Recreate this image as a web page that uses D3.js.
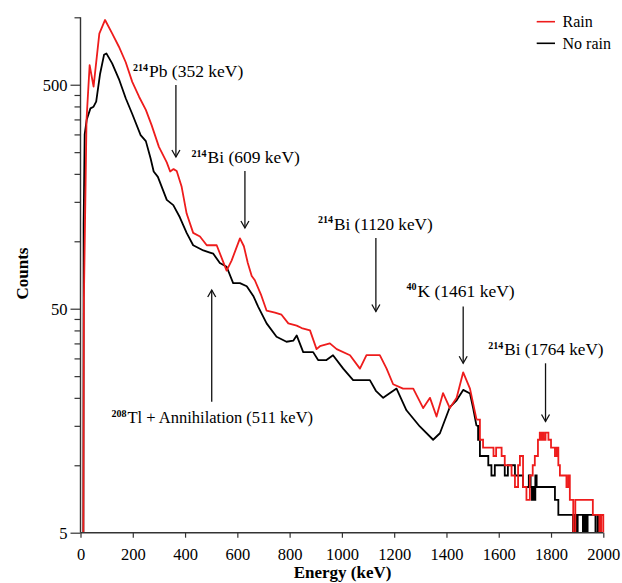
<!DOCTYPE html>
<html><head><meta charset="utf-8">
<script src="https://cdn.jsdelivr.net/npm/d3@7"></script>
<style>
body{margin:0;background:#fff}
svg{display:block}
svg text{font-family:"Liberation Serif","Tinos","DejaVu Serif",serif;fill:#000}
</style>
</head><body>
<svg id="chart" width="622" height="583"></svg>
<script>
// ---------------- DATA ----------------
// Rain spectrum (smooth part)
const rainEnergy = [11,13,23,35,50,72,94,121,147,173,198,224,250,272,300,330,343,356,368,387,406,431,457,483,521,559,578,610,625,640,655,667,690,712,744,769,795,827,846,878,903,916,954,980,1031,1069,1094,1145,1171,1196,1234,1273,1311,1337,1362,1387,1413,1439,1464,1490,1515];
const rainCounts = [5,55,348,612,490,845,973,848,739,630,515,442,386,330,264,225,205,210,206,175,133,109,105,96,96,74,82,103,95,80,70,67,58,49,48,47,43,42,41,40,33,34,35,33,31,27,31,31,27,23,22,22,18,20,16.5,21,18,20,26,22,16];
// Rain spectrum (low-count, stepped tail)
const rainTailEnergy = [1515,1528,1540,1566,1580,1590,1604,1611,1623,1642,1649,1662,1674,1681,1693,1706,1719,1730,1738,1750,1757,1762,1767,1772,1779,1790,1800,1815,1822,1828,1834,1846,1859,1866,1872,1885,1893,1950,1960,1975,1985,1992,2000];
const rainTailCounts = [16,13,12,12,11,12,12,11,10,10,9,8,10,11,8,7,9,10,11,13,14,13,14,13,14,13,12,11,12,10,9,9,8,9,7,5,7,7,6,6,5,6,5];

// No-rain spectrum (smooth part)
const noRainEnergy = [11,12,16,24,38,50,60,75,90,99,121,147,173,198,230,250,268,280,296,330,355,380,406,431,470,495,508,533,559,584,610,636,661,680,712,750,788,814,827,852,890,909,941,966,1005,1043,1081,1107,1130,1158,1184,1209,1247,1298,1349,1375,1413,1439,1464,1490,1502,1515];
const noRainCounts = [5,120,300,350,392,399,420,560,680,690,623,530,435,370,298,280,235,205,194,153,145,128,109,96,91,89,88,80,77,65,65,63,57,51,43,37.5,35.6,36,38,32,32,29.5,29.5,31,27,24,24,24,21.5,20,21,22,17.6,14.9,13,13.9,18.2,19.5,21.7,20.9,18,15];
// No-rain spectrum (stepped tail)
const noRainTailEnergy = [1515,1521,1528,1540,1553,1560,1572,1585,1600,1611,1623,1635,1649,1662,1681,1693,1705,1715,1722,1727,1731,1736,1740,1745,1755,1770,1800,1815,1828,1850,1870,1884,1890,1896,1902,1915,1922,1928,1934,1940,1950,1960,1970,1978,1985,1990,2000];
const noRainTailCounts = [15,13,11,11,11,10,9,10,10,10,9,10,10,9,9,8,8,9,8,7,8,7,9,8,8,8,8,7,6,6,6,5,6,5,6,6,5,6,5,6,6,6,5,6,5,6,6];

const xTickValues = [0,200,400,600,800,1000,1200,1400,1600,1800,2000];
const yMajorTicks = [5,50,500];
const yMinorTicks = [10,15,20,25,30,35,40,45,100,150,200,250,300,350,400,450,1000];

const seriesNames = ["Rain","No rain"];
const seriesColors = ["#ee1c1c","#000000"];

// peak annotations: isotope mass number, label, energy where the arrow points
const peakMass   = ["214","214","214","40","214","208"];
const peakLabel  = ["Pb (352 keV)","Bi (609 keV)","Bi (1120 keV)","K (1461 keV)","Bi (1764 keV)","Tl + Annihilation (511 keV)"];
const peakArrowE = [365,629,1130,1464,1779,502];

// ---------------- LAYOUT ----------------
const plot = {left:80.5, right:603.3, top:17.3, bottom:532.7};
// label placement (pixels): superscript x, baseline y, arrow y from / tip, main font size
const annLayout = [
  {sx:133,   by:77,    y1:85,    y2:157,   fs:17.5},
  {sx:191.5, by:163,   y1:171,   y2:228,   fs:17.5},
  {sx:318,   by:229.5, y1:238,   y2:311.5, fs:17.2},
  {sx:406.5, by:296.7, y1:306.5, y2:363.3, fs:17.5},
  {sx:488.3, by:355,   y1:363.3, y2:421.5, fs:17.2},
  {sx:111.5, by:423.3, y1:401.7, y2:290,   fs:16.5}
];
const FONT = "'Liberation Serif','Tinos','DejaVu Serif',serif";

const svg = d3.select("#chart");

const x = d3.scaleLinear().domain([0,2000]).range([plot.left, plot.right]);
const y = d3.scaleLog().domain([5,1000]).range([plot.bottom, plot.top]);

svg.append("defs").append("clipPath").attr("id","clip")
  .append("rect").attr("x",plot.left).attr("y",plot.top-5)
  .attr("width",plot.right-plot.left+2).attr("height",plot.bottom-plot.top+5);

const lineSmooth = d3.line().x(d=>x(d[0])).y(d=>y(d[1])).curve(d3.curveLinear);
const lineStep = d3.line().x(d=>x(d[0])).y(d=>y(d[1])).curve(d3.curveStepAfter);
const zip = (a,b)=>a.map((v,i)=>[v,b[i]]);

const g = svg.append("g").attr("clip-path","url(#clip)");
const series = [
  {head:zip(noRainEnergy,noRainCounts), tail:zip(noRainTailEnergy,noRainTailCounts), color:seriesColors[1]},
  {head:zip(rainEnergy,rainCounts), tail:zip(rainTailEnergy,rainTailCounts), color:seriesColors[0]}
];
series.forEach(s=>{
  g.append("path").attr("d",lineSmooth(s.head)).attr("fill","none")
    .attr("stroke",s.color).attr("stroke-width",1.8).attr("stroke-linejoin","round");
  g.append("path").attr("d",lineStep(s.tail)).attr("fill","none")
    .attr("stroke",s.color).attr("stroke-width",1.8);
});

// ---------------- AXES ----------------
const axisColor = "#333";
const xAxis = svg.append("g").attr("transform",`translate(0,${plot.bottom})`)
  .call(d3.axisBottom(x).tickValues(xTickValues).tickSize(5).tickPadding(11).tickFormat(d3.format("d")));
const yAxisMajor = svg.append("g").attr("transform",`translate(${plot.left},0)`)
  .call(d3.axisLeft(y).tickValues(yMajorTicks).tickSize(10).tickPadding(3).tickFormat(d3.format("d")));
const yAxisMinor = svg.append("g").attr("transform",`translate(${plot.left},0)`)
  .call(d3.axisLeft(y).tickValues(yMinorTicks).tickSize(6).tickFormat(""));
yAxisMinor.select(".domain").remove();
[xAxis,yAxisMajor,yAxisMinor].forEach(a=>{
  a.attr("font-family",FONT);
  a.selectAll("path.domain").attr("stroke",axisColor).attr("stroke-width",1.4);
  a.selectAll(".tick line").attr("stroke",axisColor).attr("stroke-width",1.2);
  a.selectAll(".tick text").attr("font-size",16.5).attr("fill","#000");
});
xAxis.select(".domain").attr("d",`M${plot.left},0H${plot.right}`);
yAxisMajor.select(".domain").attr("d",`M0,${plot.top}V${plot.bottom}`);
yAxisMajor.selectAll(".tick text").attr("dy","0.34em");

// axis titles
svg.append("text").attr("x",342.5).attr("y",578).attr("text-anchor","middle")
  .attr("font-family",FONT).attr("font-size",17).attr("font-weight","bold").text("Energy (keV)");
svg.append("text").attr("transform","translate(28,273.5) rotate(-90)").attr("text-anchor","middle")
  .attr("font-family",FONT).attr("font-size",17).attr("font-weight","bold").text("Counts");

// ---------------- ANNOTATIONS ----------------
const ann = svg.append("g").attr("font-family",FONT);
peakLabel.forEach((lab,i)=>{
  const L = annLayout[i];
  const t = ann.append("text").attr("x",L.sx).attr("y",L.by);
  t.append("tspan").attr("font-size",10).attr("font-weight","bold").attr("dy",-6.5).text(peakMass[i]);
  t.append("tspan").attr("font-size",L.fs).attr("dy",6.5).attr("dx",1).text(lab);
  const ax = x(peakArrowE[i]);
  const dir = L.y2 > L.y1 ? 1 : -1;
  ann.append("line").attr("x1",ax).attr("x2",ax).attr("y1",L.y1).attr("y2",L.y2)
    .attr("stroke","#111").attr("stroke-width",1.3);
  ann.append("path")
    .attr("d",`M${ax-4},${L.y2-dir*7}L${ax},${L.y2}L${ax+4},${L.y2-dir*7}`)
    .attr("fill","none").attr("stroke","#111").attr("stroke-width",1.3);
});

// ---------------- LEGEND ----------------
const leg = svg.append("g").attr("font-family",FONT);
seriesNames.forEach((n,i)=>{
  const ly = 21.7 + i*21.6;
  leg.append("line").attr("x1",536.7).attr("x2",555).attr("y1",ly).attr("y2",ly)
    .attr("stroke",seriesColors[i]).attr("stroke-width",1.6);
  leg.append("text").attr("x",562.5).attr("y",ly+5.6).attr("font-size",16).text(n);
});
</script>
</body></html>
